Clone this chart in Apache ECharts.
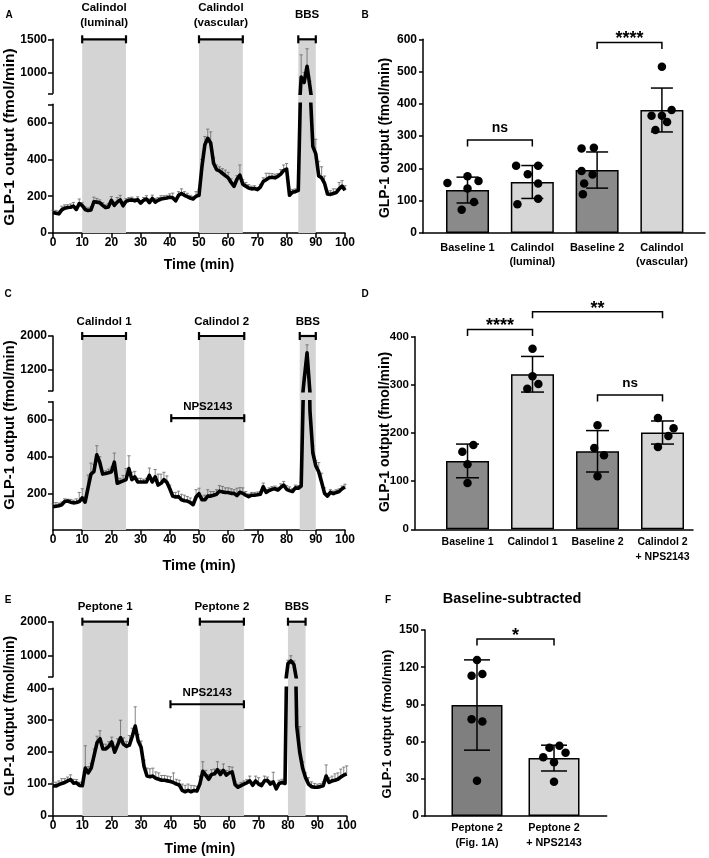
<!DOCTYPE html>
<html><head><meta charset="utf-8">
<script src="https://cdn.jsdelivr.net/npm/echarts@6/dist/echarts.min.js"></script>
<style>html,body{margin:0;padding:0;background:#fff}#c{width:709px;height:858px}</style>
</head><body><div id="c"></div>
<script>
// ---------- DATA ----------
const timeMin = [0,1,2,3,4,5,6,7,8,9,10,11,12,13,14,15,16,17,18,19,20,21,22,23,24,25,26,27,28,29,30,31,32,33,34,35,36,37,38,39,40,41,42,43,44,45,46,47,48,49,50,51,52,53,54,55,56,57,58,59,60,61,62,63,64,65,66,67,68,69,70,71,72,73,74,75,76,77,78,79,80,81,82,83,84,85,86,87,88,89,90,91,92,93,94,95,96,97,98,99,100];

const glpA = [112,108,104,126,135,139,140,146,128,160,
  150,128,122,125,170,168,165,150,138,142,
  178,150,168,180,148,172,178,180,175,182,
  162,178,185,165,188,168,178,185,188,190,
  195,192,175,205,215,205,198,190,185,200,
  205,360,480,515,490,380,345,338,325,312,
  300,275,254,292,315,265,255,245,240,242,
  236,250,280,290,300,303,300,308,320,340,
  348,205,222,225,232,940,860,1100,800,470,
  430,310,300,270,212,210,215,220,240,255,232];
const semA = [10,15,15,20,18,15,18,20,15,25,
  15,15,15,18,25,20,15,15,15,18,
  20,18,25,25,22,15,15,15,12,15,
  15,15,18,20,18,20,15,18,15,15,
  18,25,15,20,25,20,18,15,15,25,
  30,40,45,50,60,30,25,22,25,30,
  30,20,15,20,55,25,20,18,15,15,
  12,15,20,35,25,20,20,15,25,30,
  30,20,15,15,20,330,150,260,80,40,
  80,80,60,40,15,20,25,20,35,30,25];

const glpC = [127,130,132,138,155,158,152,148,150,155,
  175,152,230,305,318,410,370,305,308,312,
  318,370,255,262,268,275,335,275,290,262,
  262,262,262,298,262,290,245,255,275,260,
  225,185,180,182,165,160,158,150,138,180,
  198,165,165,185,185,190,195,212,208,205,
  205,200,200,188,206,200,190,182,190,190,
  192,195,236,205,215,222,225,218,232,245,
  222,215,210,230,228,240,950,1600,650,420,
  350,318,260,200,185,205,198,205,210,225,235];
const semC = [15,20,15,15,15,10,15,15,20,50,
  50,30,70,60,40,50,30,15,15,20,
  25,50,25,20,30,60,70,40,30,20,
  20,15,20,40,20,40,60,50,40,35,
  20,20,25,30,30,30,25,25,15,40,
  30,20,25,35,25,20,25,30,30,25,
  25,25,20,40,25,30,20,15,15,15,
  15,15,20,15,15,15,15,15,20,20,
  20,20,15,15,15,20,50,190,60,40,
  30,50,50,30,15,15,15,15,15,15,15];

const glpE = [95,94,98,102,105,110,114,103,104,96,
  95,150,135,150,190,230,242,210,210,218,
  232,200,222,245,225,218,222,250,282,235,
  215,155,125,123,125,118,115,112,112,110,
  108,105,100,97,80,76,80,76,80,78,
  100,140,128,115,130,132,145,130,143,128,
  135,138,98,90,95,100,104,110,96,110,
  100,95,110,112,100,107,85,102,105,102,
  780,860,760,280,200,150,120,100,92,90,
  90,92,95,125,105,110,112,115,122,128,132];
const semE = [10,12,12,15,12,12,15,12,10,10,
  10,70,20,15,20,20,25,15,15,15,
  15,15,20,55,20,15,30,25,60,20,
  20,20,25,25,25,20,20,15,15,15,
  15,30,15,15,20,20,20,20,15,15,
  25,30,15,15,15,15,25,15,20,15,
  20,15,10,10,10,10,10,15,10,15,
  20,10,15,10,10,30,10,10,10,10,
  100,150,100,50,80,20,15,20,15,12,
  10,10,12,35,15,15,20,20,25,25,25];

// shaded periods [start, end] (min)
const bandsA = [[10,25],[50,65],[84,90]];
const bandsC = [[10,25],[50,65.5],[84.5,90]];
const bandsE = [[10,25.5],[50,65],[80,86]];
// treatment brackets [start, end, level]
const bracketsA = [[10,25,1500],[50,65,1500],[84,90,1500]];
const bracketLabelsA = ['Calindol\n(luminal)','Calindol\n(vascular)','BBS'];
const bracketsC = [[10,25,2000],[50,65.5,2000],[84.5,90,2000]];
const bracketLabelsC = ['Calindol 1','Calindol 2','BBS'];
const npsC = [[40.5,65.5,610]];
const bracketsE = [[10,25.5,2000],[50,65,2000],[80,86,2000]];
const bracketLabelsE = ['Peptone 1','Peptone 2','BBS'];
const npsE = [[40,65,350]];
const npsLabel = ['NPS2143'];

// bar panels
const catsB = ['Baseline 1','Calindol\n(luminal)','Baseline 2','Calindol\n(vascular)'];
const meanB = [133,158,195,381];
const sdB = [40,51,56,68];
const dotsB = [[155,176,161,138,96,72],[208,208,182,153,106,89],[262,264,192,181,153,120],[515,381,363,363,344,319]];
const jitterB = [[-0.31,0,0.17,0,0.1,-0.09],[-0.25,0.09,-0.07,0.09,0.09,-0.23],[-0.24,-0.05,-0.24,-0.07,-0.2,-0.22],[0,0.15,-0.16,0,0.08,-0.1]];
const sigB = [[0,1,288,'ns'],[2,3,590,'****']];

const catsD = ['Baseline 1','Calindol 1','Baseline 2','Calindol 2\n+ NPS2143'];
const meanD = [142,322,162,201];
const sdD = [35,37,43,24];
const dotsD = [[175,161,135,96],[375,318,302,292],[216,169,154,110],[231,210,194,171]];
const jitterD = [[0.09,-0.08,0,0],[0,0,0.09,-0.08],[0,-0.05,0.1,0],[-0.07,0.17,0.09,-0.07]];
const sigD = [[0,1,415,'****'],[1,3,452,'**'],[2,3,279,'ns']];

const catsF = ['Peptone 2\n(Fig. 1A)','Peptone 2\n+ NPS2143'];
const meanF = [89.5,46.7];
const sdF = [36.4,10.4];
const dotsF = [[125.8,113.2,114.5,78,76.3,28.5],[56.7,55.1,51.1,47.3,43.3,27.7]];
const jitterF = [[0,-0.07,0.07,-0.07,0.07,0],[0.07,-0.06,0.15,-0.14,0,0]];
const sigF = [[0,1,142.7,'*']];

// ---------- BUILD ----------
const FONT = '"Liberation Sans", Arial, Helvetica, sans-serif';
const DARK = '#8a8a8a', LIGHT = '#d6d6d6', BAND = '#d4d4d4';
const grids = [], xAxes = [], yAxes = [], series = [], graphics = [];
const axLine = {show:true, onZero:false, lineStyle:{color:'#000', width:1.5}};
const plain = v => String(v);
function addGrid(r){ grids.push(r); return grids.length - 1; }
function lbl(fs, extra){ return Object.assign({color:'#000', fontWeight:'bold', fontSize:fs, fontFamily:FONT}, extra||{}); }

function bandRender(params, api){
  const a = api.coord([api.value(0), 1]), b = api.coord([api.value(1), 0]);
  return {type:'rect', shape:{x:a[0], y:a[1], width:b[0]-a[0], height:b[1]-a[1]}, style:{fill:BAND}};
}
function semRender(params, api){
  const x = api.value(0), y = api.value(1), e = api.value(2);
  const p0 = api.coord([x, y]), p1 = api.coord([x, y + e]);
  const cs = params.coordSys, top = cs.y, bottom = cs.y + cs.height;
  if (p0[1] < top || p1[1] > bottom) return null;
  const ya = Math.min(p0[1], bottom), yb = Math.max(p1[1], top);
  const ls = {stroke:'#666', lineWidth:0.8};
  const ch = [{type:'line', shape:{x1:p0[0], y1:ya, x2:p0[0], y2:yb}, style:ls}];
  if (p1[1] >= top) ch.push({type:'line', shape:{x1:p0[0]-1.6, y1:p1[1], x2:p0[0]+1.6, y2:p1[1]}, style:ls});
  return {type:'group', children:ch};
}
function treatRender(labels, dy, fs){
  return function(params, api){
    const y = api.value(2);
    const a = api.coord([api.value(0), y]), b = api.coord([api.value(1), y]);
    const ls = {stroke:'#000', lineWidth:2.2}, cap = 4;
    return {type:'group', children:[
      {type:'line', shape:{x1:a[0], y1:a[1], x2:b[0], y2:b[1]}, style:ls},
      {type:'line', shape:{x1:a[0], y1:a[1]-cap, x2:a[0], y2:a[1]+cap}, style:ls},
      {type:'line', shape:{x1:b[0], y1:b[1]-cap, x2:b[0], y2:b[1]+cap}, style:ls},
      {type:'text', x:(a[0]+b[0])/2, y:a[1]-dy, style:{text:labels[params.dataIndex], font:'bold '+fs+'px '+FONT, fill:'#000', align:'center', verticalAlign:'middle', lineHeight:fs+3}}
    ]};
  };
}
function sdRender(capHalf){
  return function(params, api){
    const x = api.value(0), m = api.value(1), s = api.value(2);
    const t = api.coord([x, m + s]), b = api.coord([x, m - s]);
    const ls = {stroke:'#000', lineWidth:1.5};
    return {type:'group', children:[
      {type:'line', shape:{x1:t[0], y1:t[1], x2:b[0], y2:b[1]}, style:ls},
      {type:'line', shape:{x1:t[0]-capHalf, y1:t[1], x2:t[0]+capHalf, y2:t[1]}, style:ls},
      {type:'line', shape:{x1:b[0]-capHalf, y1:b[1], x2:b[0]+capHalf, y2:b[1]}, style:ls}
    ]};
  };
}
function sigRender(labels, fs, starFs){
  return function(params, api){
    const y = api.value(2);
    const a = api.coord([api.value(0), y]), b = api.coord([api.value(1), y]);
    const lab = labels[params.dataIndex], star = lab.indexOf('*') >= 0, drop = 6.5;
    return {type:'group', children:[
      {type:'polyline', shape:{points:[[a[0], a[1]+drop],[a[0], a[1]],[b[0], b[1]],[b[0], b[1]+drop]]}, style:{stroke:'#000', lineWidth:1.5, fill:'none'}},
      {type:'text', x:(a[0]+b[0])/2, y:a[1]-(star ? 3 : 11.5), style:{text:lab, font:'bold '+(star ? starFs : fs)+'px '+FONT, fill:'#000', align:'center', verticalAlign:'middle'}}
    ]};
  };
}

function tracePanel(p){
  const line = timeMin.map((t, i) => [t, p.values[i]]);
  const sem = timeMin.map((t, i) => [t, p.values[i], p.errs[i]]);
  let gi = addGrid({left:p.left, width:p.width, top:p.up.top, height:p.lo.top + p.lo.height - p.up.top});
  xAxes.push({gridIndex:gi, type:'value', min:0, max:100, show:false});
  yAxes.push({gridIndex:gi, type:'value', min:0, max:1, show:false});
  series.push({type:'custom', xAxisIndex:gi, yAxisIndex:gi, data:p.bands, renderItem:bandRender, silent:true, z:1});
  [p.up, p.lo].forEach((seg, k) => {
    const g = addGrid({left:p.left, width:p.width, top:seg.top, height:seg.height});
    const isLo = k === 1;
    xAxes.push(isLo ? {gridIndex:g, type:'value', min:0, max:100, interval:10,
        axisLine:axLine, axisTick:{show:true, length:5, lineStyle:{color:'#000', width:1.5}},
        axisLabel:lbl(p.tickFs, {margin:p.xMargin, formatter:plain}), splitLine:{show:false},
        name:'Time (min)', nameLocation:'middle', nameGap:p.nameGap, nameTextStyle:lbl(p.nameFs)}
      : {gridIndex:g, type:'value', min:0, max:100, show:false});
    yAxes.push({gridIndex:g, type:'value', min:seg.min, max:seg.max,
      axisLine:axLine, axisTick:{show:true, length:5, lineStyle:{color:'#000', width:1.5}, customValues:seg.ticks},
      axisLabel:lbl(p.tickFs, {customValues:seg.labels, margin:6, formatter:plain}), splitLine:{show:false}});
    series.push({type:'custom', xAxisIndex:g, yAxisIndex:g, data:sem, renderItem:semRender, silent:true, z:2});
    series.push({type:'line', xAxisIndex:g, yAxisIndex:g, data:line, symbol:'none', clip:true,
      lineStyle:{color:'#000', width:3.6, join:'round'}, silent:true, z:3});
    if (!isLo) series.push({type:'custom', xAxisIndex:g, yAxisIndex:g, data:p.brackets, renderItem:treatRender(p.bracketLabels, p.labelDy, p.labelFs), silent:true, z:4});
    if (isLo && p.nps) series.push({type:'custom', xAxisIndex:g, yAxisIndex:g, data:p.nps, renderItem:treatRender(npsLabel, 11.5, p.labelFs), silent:true, z:4});
  });
}

function barPanel(p){
  const g = addGrid({left:p.left, top:p.top, width:p.width, height:p.height});
  xAxes.push({gridIndex:g, type:'value', min:p.xmin, max:p.xmax, axisLine:axLine, axisTick:{show:false}, splitLine:{show:false},
    axisLabel:lbl(p.catFs, {customValues:p.cats.map((c, i) => i), formatter:v => p.cats[Math.round(v)] || '', margin:p.catMargin, lineHeight:p.catLh, hideOverlap:false})});
  yAxes.push({gridIndex:g, type:'value', min:0, max:p.ymax, interval:p.interval, axisLine:axLine,
    axisTick:{show:true, length:4, lineStyle:{color:'#000', width:1.5}}, axisLabel:lbl(p.tickFs, {margin:6, formatter:plain}), splitLine:{show:false}});
  series.push({type:'bar', xAxisIndex:g, yAxisIndex:g, barWidth:p.barW, silent:true, z:2,
    data:p.means.map((m, i) => ({value:[i, m], itemStyle:{color:p.colors[i], borderColor:'#000', borderWidth:1.5}}))});
  series.push({type:'custom', xAxisIndex:g, yAxisIndex:g, data:p.means.map((m, i) => [i, m, p.sds[i]]), renderItem:sdRender(p.capHalf), silent:true, z:3});
  const pts = [];
  p.dots.forEach((arr, i) => arr.forEach((v, j) => pts.push([i + p.jitter[i][j], v])));
  series.push({type:'scatter', xAxisIndex:g, yAxisIndex:g, data:pts, symbol:'circle', symbolSize:8.5, itemStyle:{color:'#000', opacity:1}, silent:true, z:4});
  series.push({type:'custom', xAxisIndex:g, yAxisIndex:g, data:p.sig.map(s => [s[0], s[1], s[2]]), renderItem:sigRender(p.sig.map(s => s[3]), p.sigFs, 18), silent:true, z:5});
}

tracePanel({left:53, width:292, values:glpA, errs:semA, bands:bandsA, brackets:bracketsA, bracketLabels:bracketLabelsA, labelDy:24, labelFs:11.5,
  up:{top:39.3, height:54, min:700, max:1500, ticks:[700,1000,1500], labels:[1000,1500]},
  lo:{top:104.3, height:128.7, min:0, max:700, ticks:[0,200,400,600,700], labels:[0,200,400,600]},
  tickFs:12, nameFs:14, nameGap:25, xMargin:4});
tracePanel({left:53, width:292, values:glpC, errs:semC, bands:bandsC, brackets:bracketsC, bracketLabels:bracketLabelsC, labelDy:14.5, labelFs:11.5, nps:npsC,
  up:{top:336, height:54.7, min:700, max:2000, ticks:[700,1200,2000], labels:[1200,2000]},
  lo:{top:401.7, height:128.3, min:0, max:700, ticks:[200,400,600,700], labels:[200,400,600]},
  tickFs:12, nameFs:14.5, nameGap:28, xMargin:4});
tracePanel({left:53, width:293.7, values:glpE, errs:semE, bands:bandsE, brackets:bracketsE, bracketLabels:bracketLabelsE, labelDy:15, labelFs:11.5, nps:npsE,
  up:{top:621.7, height:55, min:400, max:2000, ticks:[400,1000,2000], labels:[1000,2000]},
  lo:{top:688.3, height:127.7, min:0, max:400, ticks:[0,100,200,300,400], labels:[0,100,200,300,400]},
  tickFs:12, nameFs:14, nameGap:26, xMargin:4});

barPanel({left:423, top:39.3, width:282, height:193.7, xmin:-0.687, xmax:3.665, ymax:600, interval:100,
  cats:catsB, means:meanB, sds:sdB, dots:dotsB, jitter:jitterB, sig:sigB, colors:[DARK, LIGHT, DARK, LIGHT],
  barW:43, capHalf:11, catFs:11, catLh:14, catMargin:8, tickFs:12, sigFs:14});
barPanel({left:415, top:336.7, width:278, height:192.6, xmin:-0.808, xmax:3.469, ymax:400, interval:100,
  cats:catsD, means:meanD, sds:sdD, dots:dotsD, jitter:jitterD, sig:sigD, colors:[DARK, LIGHT, DARK, LIGHT],
  barW:43, capHalf:11.5, catFs:10.5, catLh:15, catMargin:5, tickFs:11.5, sigFs:13.5});
barPanel({left:425, top:630, width:181.7, height:186, xmin:-0.675, xmax:1.684, ymax:150, interval:30,
  cats:catsF, means:meanF, sds:sdF, dots:dotsF, jitter:jitterF, sig:sigF, colors:['#7f7f7f', LIGHT],
  barW:51, capHalf:13, catFs:10.8, catLh:14.7, catMargin:5, tickFs:12, sigFs:13.5});

function txt(t, x, y, fs, rot){
  graphics.push({type:'text', x:x, y:y, rotation:rot || 0, silent:true,
    style:{text:t, font:'bold '+fs+'px '+FONT, fill:'#000', align:'center', verticalAlign:'middle'}});
}
txt('A', 9, 15, 10); txt('B', 365, 15, 10); txt('C', 8, 294, 10);
txt('D', 365, 294, 10); txt('E', 8, 600, 10); txt('F', 388, 600, 10);
const yTitle = 'GLP-1 output (fmol/min)';
txt(yTitle, 10, 137, 15.5, Math.PI/2);
txt(yTitle, 385, 138, 14, Math.PI/2);
txt(yTitle, 10, 425, 14.8, Math.PI/2);
txt(yTitle, 385, 432, 14, Math.PI/2);
txt(yTitle, 10, 716, 14, Math.PI/2);
txt(yTitle, 387, 724, 13, Math.PI/2);
txt('Baseline-subtracted', 512, 599, 14.5);

const chart = echarts.init(document.getElementById('c'), null, {renderer:'canvas'});
chart.setOption({animation:false, backgroundColor:'#fff', textStyle:{fontFamily:FONT},
  grid:grids, xAxis:xAxes, yAxis:yAxes, series:series, graphic:graphics});
</script></body></html>
